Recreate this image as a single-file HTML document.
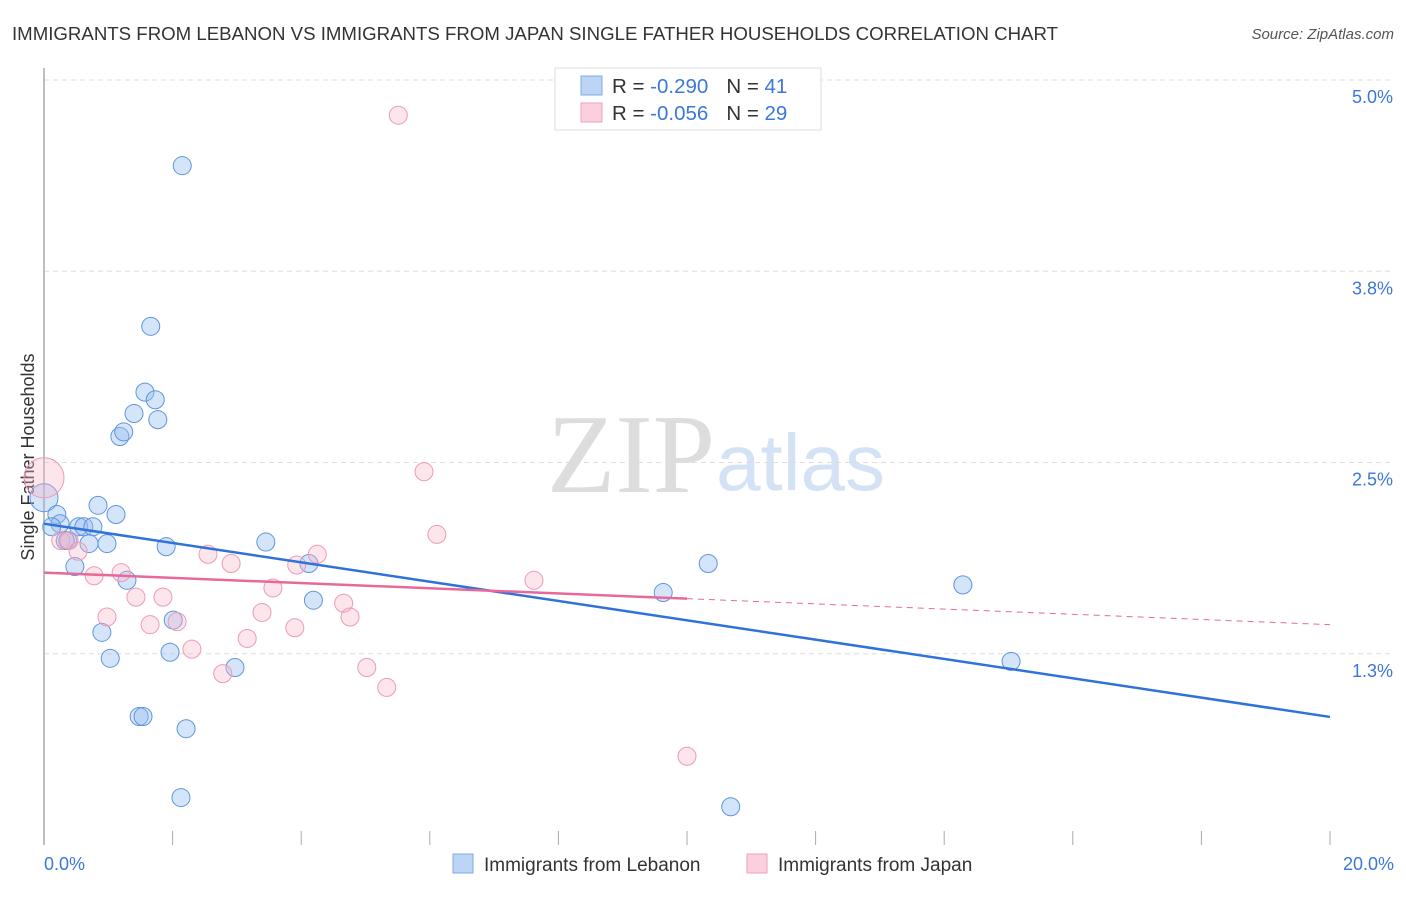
<!DOCTYPE html>
<html><head><meta charset="utf-8"><style>
body{margin:0;background:#fff;font-family:"Liberation Sans",sans-serif}
</style></head><body>
<svg width="1406" height="892" xmlns="http://www.w3.org/2000/svg" font-family="Liberation Sans, sans-serif">
<text x="12" y="40" font-size="18" fill="#333" textLength="1046" lengthAdjust="spacingAndGlyphs">IMMIGRANTS FROM LEBANON VS IMMIGRANTS FROM JAPAN SINGLE FATHER HOUSEHOLDS CORRELATION CHART</text>
<text x="1394" y="39" font-size="15" fill="#555" font-style="italic" text-anchor="end">Source: ZipAtlas.com</text>
<text x="715" y="492" font-size="112" fill="#ddd" text-anchor="end" font-family="Liberation Serif, serif">ZIP</text>
<text x="716" y="490" font-size="80" fill="#d3e2f5">atlas</text>
<g id="grid"></g>
<line x1="44" y1="68" x2="44" y2="845" stroke="#aaa" stroke-width="1.5"/>
<text transform="translate(34,457) rotate(-90)" font-size="18" fill="#333" text-anchor="middle">Single Father Households</text>
<text x="44" y="870" font-size="18" fill="#3b78d8">0.0%</text>
<text x="1394" y="870" font-size="18" fill="#3b78d8" text-anchor="end">20.0%</text>
<g id="pts"></g>
<g id="lines"></g>
<g>
<rect x="555" y="68" width="266" height="62" fill="#fff" stroke="#ddd"/>
<rect x="581" y="76" width="21" height="19" fill="#bdd5f5" stroke="#7fa9e6"/>
<rect x="581" y="103" width="21" height="19" fill="#fccfdd" stroke="#f0a0bb"/>
<text x="612" y="93" font-size="20.5" fill="#333">R = <tspan fill="#3b78d8">-0.290</tspan><tspan dx="18">N = </tspan><tspan fill="#3b78d8">41</tspan></text>
<text x="612" y="120" font-size="20.5" fill="#333">R = <tspan fill="#3b78d8">-0.056</tspan><tspan dx="18">N = </tspan><tspan fill="#3b78d8">29</tspan></text>
</g>
<g>
<rect x="453" y="854" width="20" height="19" fill="#bdd5f5" stroke="#7fa9e6"/>
<text x="484" y="871" font-size="19" fill="#333">Immigrants from Lebanon</text>
<rect x="747" y="854" width="20" height="19" fill="#fccfdd" stroke="#f0a0bb"/>
<text x="778" y="871" font-size="19" fill="#333">Immigrants from Japan</text>
</g>
</svg>
<script>
const yTicks=[5.0,3.75,2.5,1.25];
const yTickLabels=["5.0%","3.8%","2.5%","1.3%"];
const xTicks=[0,2,4,6,8,10,12,14,16,18,20];
const lebX=[0,0.20,0.25,0.12,0.37,0.33,0.54,0.62,0.76,0.70,0.98,0.84,1.12,0.48,1.29,0.90,1.03,1.18,1.24,1.40,1.57,1.73,1.77,1.66,2.15,1.90,1.96,2.01,1.48,1.54,2.21,2.13,2.97,3.45,4.12,4.19,9.63,10.33,10.68,14.29,15.04];
const lebY=[2.27,2.16,2.10,2.08,1.99,1.99,2.08,2.08,2.08,1.97,1.97,2.22,2.16,1.82,1.73,1.39,1.22,2.67,2.70,2.82,2.96,2.91,2.78,3.39,4.44,1.95,1.26,1.47,0.84,0.84,0.76,0.31,1.16,1.98,1.84,1.60,1.65,1.84,0.25,1.70,1.20];
const japX=[0,0.26,0.39,0.53,0.78,0.98,1.20,1.43,1.65,1.85,2.07,2.30,2.55,2.78,2.91,3.16,3.39,3.56,3.90,3.93,4.25,4.66,4.76,5.02,5.33,5.51,5.91,6.11,7.62,10.00];
const japY=[2.40,1.99,1.99,1.92,1.76,1.49,1.78,1.62,1.44,1.62,1.46,1.28,1.90,1.12,1.84,1.35,1.52,1.68,1.42,1.83,1.90,1.58,1.49,1.16,1.03,4.77,2.44,2.03,1.73,0.58];
const lebTrend=[2.10,0.837];
const japTrend=[1.78,1.44];
const X=v=>44+v/20*1286, Y=v=>845-v*153;
const NS="http://www.w3.org/2000/svg";
function mk(t,a,p){const e=document.createElementNS(NS,t);for(const k in a)e.setAttribute(k,a[k]);p.appendChild(e);return e;}
const g=document.getElementById('grid');
yTicks.forEach((v,i)=>{
 const l=mk('line',{x1:44,x2:1394,y1:Y(v),y2:Y(v),stroke:'#ddd','stroke-dasharray':'5,4'},g);
 
 
 const t=mk('text',{x:1393,y:Y(v)+23,'font-size':18,fill:'#3b78d8','text-anchor':'end'},g);
 t.textContent=yTickLabels[i];
 
 
});
xTicks.forEach(v=>{
 const l=mk('line',{x1:X(v),x2:X(v),y1:831,y2:845,stroke:'#aaa'},g);
 
 
});
const p=document.getElementById('pts');
lebX.forEach((x,i)=>{
 const c=mk('circle',{cx:X(x),cy:Y(lebY[i]),r:i==0?14:9,fill:'rgba(150,190,240,0.4)',stroke:'#5f95dd','stroke-width':1},p);
 
 
});
japX.forEach((x,i)=>{
 const c=mk('circle',{cx:X(x),cy:Y(japY[i]),r:i==0?20:9,fill:'rgba(248,180,200,0.35)',stroke:'#eb9bb6','stroke-width':1},p);
 
 
});
const L=document.getElementById('lines');
const b=mk('line',{x1:X(0),y1:Y(lebTrend[0]),x2:X(20),y2:Y(lebTrend[1]),stroke:'#2f72d8','stroke-width':2.5},L);


const mid=japTrend[0]+(japTrend[1]-japTrend[0])*0.5;
const j1=mk('line',{x1:X(0),y1:Y(japTrend[0]),x2:X(10),y2:Y(mid),stroke:'#e8689a','stroke-width':2.5},L);


const j2=mk('line',{x1:X(10),y1:Y(mid),x2:X(20),y2:Y(japTrend[1]),stroke:'#e8689a','stroke-width':1,'stroke-dasharray':'6,5'},L);


</script>
</body></html>
